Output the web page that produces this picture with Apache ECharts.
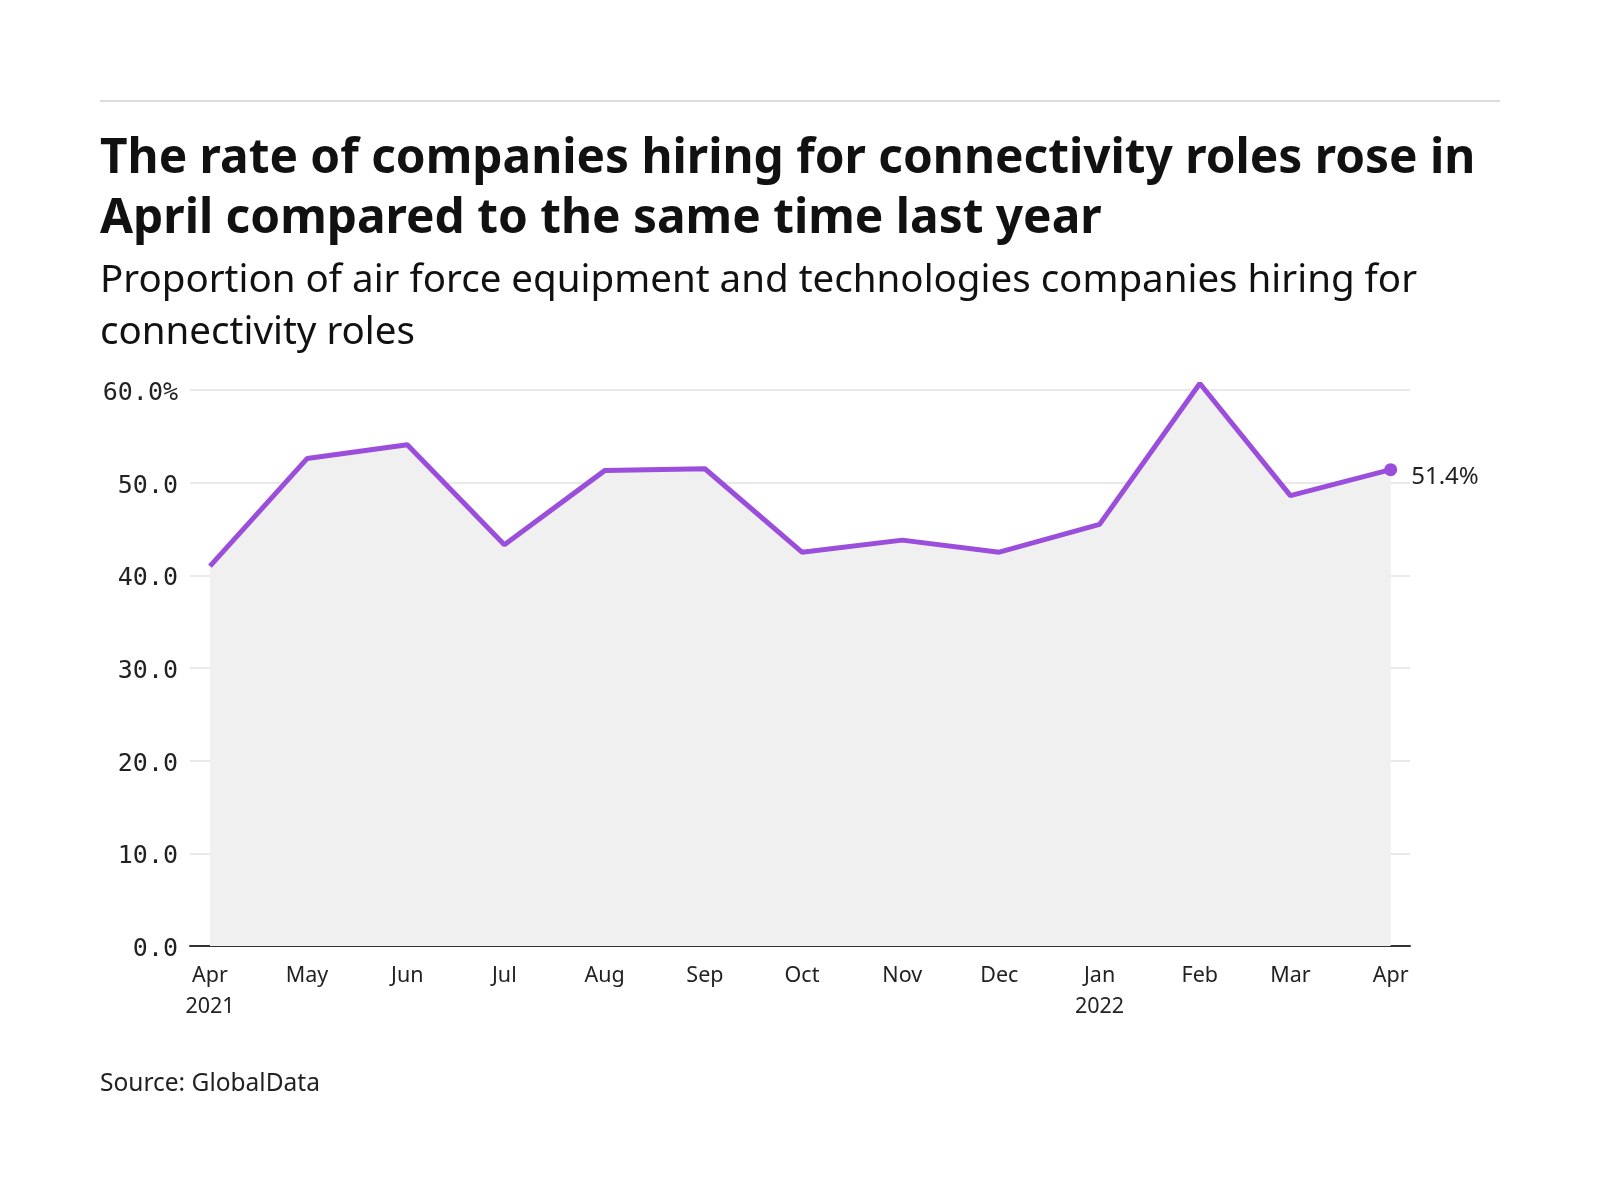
<!DOCTYPE html>
<html><head><meta charset="utf-8">
<script src="https://cdn.jsdelivr.net/npm/echarts@6/dist/echarts.min.js"></script>
<style>html,body{margin:0;padding:0;background:#fff}#c{width:1600px;height:1200px}</style>
</head><body><div id="c"></div>
<script>
const months = ['2021-04-01','2021-05-01','2021-06-01','2021-07-01','2021-08-01','2021-09-01','2021-10-01','2021-11-01','2021-12-01','2022-01-01','2022-02-01','2022-03-01','2022-04-01'];
const monthLabels = ['Apr\n2021','May','Jun','Jul','Aug','Sep','Oct','Nov','Dec','Jan\n2022','Feb','Mar','Apr'];
const values = [41.0,52.6,54.1,43.3,51.3,51.5,42.5,43.8,42.5,45.5,60.7,48.6,51.4];
const yTicks = [0,10,20,30,40,50,60];

const ts = months.map(m => { const p = m.split('-'); return Date.UTC(+p[0], +p[1]-1, +p[2]); });
const labelMap = {};
ts.forEach((t,i)=>{ labelMap[t] = monthLabels[i]; });
const day = 86400000;
const data = ts.map((t,i)=>{
  if (i === ts.length-1) {
    return {value:[t, values[i]], symbol:'circle', symbolSize:13,
      label:{show:true, position:'right', distance:14, offset:[0,7], formatter: values[i].toFixed(1)+'%',
        fontFamily:'Noto Sans', fontSize:24, color:'#222'}};
  }
  return {value:[t, values[i]], symbol:'none'};
});

const chart = echarts.init(document.getElementById('c'), null, {renderer:'canvas'});
chart.setOption({
  animation:false,
  backgroundColor:'#fff',
  graphic:[
    {type:'line', shape:{x1:100,y1:101,x2:1500,y2:101}, style:{stroke:'#dcdcdc', lineWidth:2}},
    {type:'text', left:100, top:129, style:{text:'The rate of companies hiring for connectivity roles rose in\nApril compared to the same time last year',
      font:'bold 47.8px "Noto Sans"', fill:'#111', lineHeight:60}},
    {type:'text', left:100, top:255, style:{text:'Proportion of air force equipment and technologies companies hiring for\nconnectivity roles',
      font:'38.5px "Noto Sans"', fill:'#111', lineHeight:52}},
    {type:'text', left:100, top:1069, style:{text:'Source: GlobalData', font:'24.5px "Noto Sans"', fill:'#222', lineHeight:30}}
  ],
  grid:{left:190, right:190, top:390, bottom:254, containLabel:false},
  xAxis:{
    type:'value',
    min: ts[0] - 6.18*day,
    max: ts[ts.length-1] + 5.97*day,
    axisLine:{show:true, lineStyle:{color:'#333', width:2}},
    axisTick:{show:false},
    splitLine:{show:false},
    axisLabel:{
      customValues: ts,
      formatter: v => labelMap[v] || '',
      fontFamily:'Noto Sans', fontSize:21.5, color:'#222', margin:14, lineHeight:31
    }
  },
  yAxis:{
    type:'value', min:0, max:60, interval:10,
    axisLine:{show:false}, axisTick:{show:false},
    splitLine:{lineStyle:{color:'#e2e2e2', width:1.5}},
    axisLabel:{
      formatter: v => '{a|' + (v===60 ? v.toFixed(1)+'%' : v.toFixed(1)) + '}',
      margin:12,
      rich:{a:{fontFamily:'DejaVu Sans Mono', fontSize:25, color:'#222', padding:[7,0,0,0]}}
    }
  },
  series:[{
    type:'line', data:data, clip:false, showSymbol:true,
    lineStyle:{color:'#9b4ddb', width:5},
    itemStyle:{color:'#9b4ddb'},
    areaStyle:{color:'#f0f0f0', opacity:1},
    z:3
  }]
});
</script></body></html>
